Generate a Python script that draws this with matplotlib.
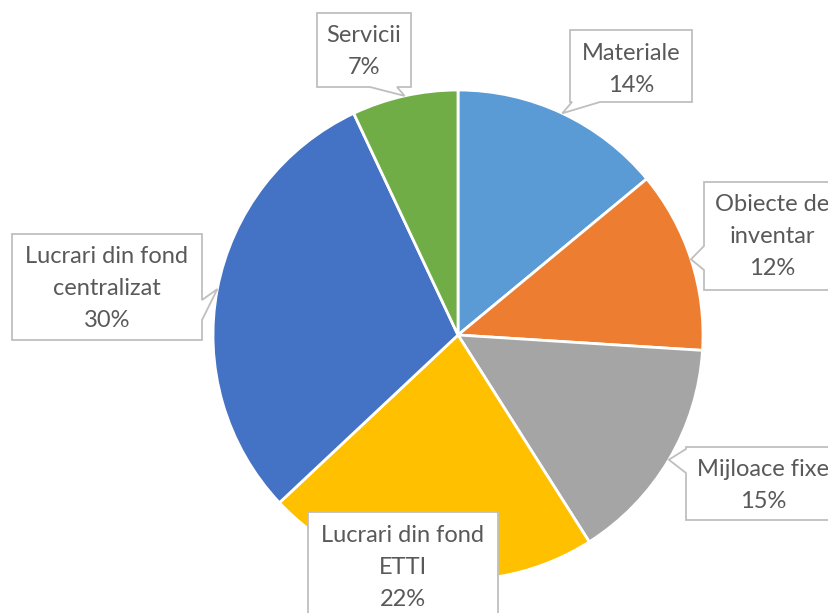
import matplotlib
matplotlib.use("Agg")
import matplotlib.pyplot as plt
import numpy as np
from matplotlib.patches import Polygon

# data
labels = ["Materiale", "Obiecte de\ninventar", "Mijloace fixe",
          "Lucrari din fond\nETTI", "Lucrari din fond\ncentralizat", "Servicii"]
values = [14, 12, 15, 22, 30, 7]
colors = ["#5B9BD5", "#ED7D31", "#A5A5A5", "#FFC000", "#4472C4", "#70AD47"]

# label boxes in pixel coords (y down): x0, y0, x1, y1, pointer side, pointer base a..b
boxes = [
    (570, 30, 692, 102, "bottom", 572, 600),
    (704, 182, 840, 290, "left", 246, 270),
    (686, 447, 840, 520, "left", 449, 473),
    (308, 512, 498, 624, None, 0, 0),
    (12, 234, 202, 340, "right", 300, 320),
    (317, 13, 411, 87, "bottom", 370, 397),
]

W, H = 829, 613
cx, cy, r = 458, 335, 245

fig = plt.figure(figsize=(W / 100, H / 100), dpi=100)
ax = fig.add_axes([0, 0, 1, 1])

wedges, _ = ax.pie(values, colors=colors, startangle=90, counterclock=False,
                   center=(cx, H - cy), radius=r,
                   wedgeprops=dict(edgecolor="white", linewidth=2))
ax.set_xlim(0, W)
ax.set_ylim(0, H)
ax.axis("off")


def callout(box, tip):
    x0, y0, x1, y1, side, a, b = box
    if side == "bottom":
        pts = [(x0, y0), (x1, y0), (x1, y1), (b, y1), tip, (a, y1), (x0, y1)]
    elif side == "left":
        pts = [(x0, y0), (x1, y0), (x1, y1), (x0, y1), (x0, b), tip, (x0, a)]
    elif side == "right":
        pts = [(x0, y0), (x1, y0), (x1, a), tip, (x1, b), (x1, y1), (x0, y1)]
    else:
        pts = [(x0, y0), (x1, y0), (x1, y1), (x0, y1)]
    return [(x, H - y) for x, y in pts]


for w, lab, v, box in zip(wedges, labels, values, boxes):
    mid = np.deg2rad((w.theta1 + w.theta2) / 2)
    tip = (cx + r * np.cos(mid), cy - r * np.sin(mid))
    poly = Polygon(callout(box, tip), closed=True, facecolor="white",
                   edgecolor="#BFBFBF", linewidth=1.3, zorder=5)
    ax.add_patch(poly)
    lines = lab.split("\n") + [f"{v}%"]
    x0, y0, x1, y1 = box[:4]
    tx = (x0 + x1) / 2
    first = y0 + 23
    for i, line in enumerate(lines):
        ax.text(tx, H - (first + 32 * i), line, ha="center", va="center",
                fontsize=17, color="#595959", family="Lato", zorder=6)

fig.savefig("out.png", dpi=100)
